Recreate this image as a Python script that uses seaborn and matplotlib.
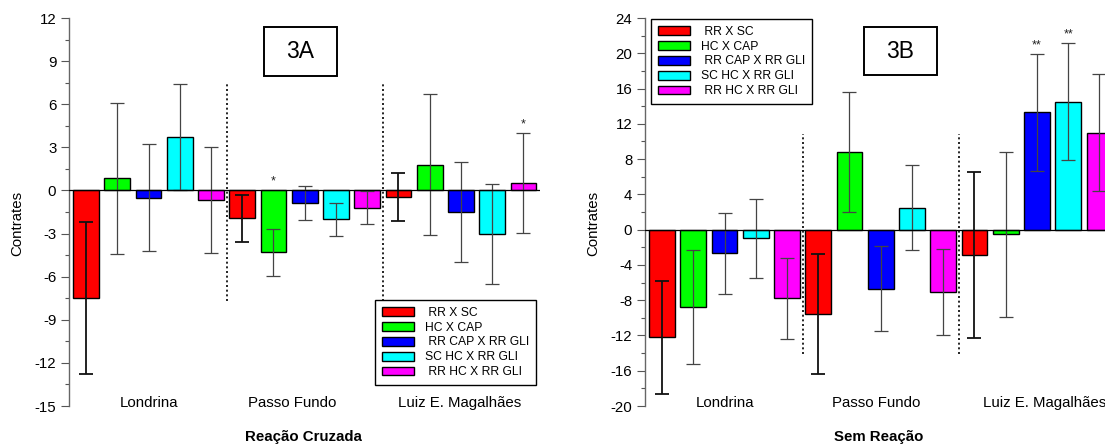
import numpy as np
import pandas as pd
import matplotlib
matplotlib.use("Agg")
import matplotlib.pyplot as plt
from matplotlib.patches import Rectangle, Patch
from matplotlib.ticker import MultipleLocator
import seaborn as sns

# ---------------- data ----------------
locations = ["Londrina", "Passo Fundo", "Luiz E. Magalhães"]
contrasts = ["RR X SC", "HC X CAP", "RR CAP X RR GLI", "SC HC X RR GLI", "RR HC X RR GLI"]
legend_labels = [" RR X SC", "HC X CAP", " RR CAP X RR GLI", "SC HC X RR GLI", " RR HC X RR GLI"]
colors = ["#FF0000", "#00FF00", "#0000FF", "#00FFFF", "#FF00FF"]

# Reação Cruzada (3A): values per location, in contrast order
cruz_londrina = [-7.5, 0.85, -0.5, 3.7, -0.65]
cruz_passo = [-1.95, -4.3, -0.85, -2.0, -1.2]
cruz_luiz = [-0.45, 1.8, -1.5, -3.0, 0.53]
cruz_err_londrina = [5.3, 5.25, 3.7, 3.7, 3.7]
cruz_err_passo = [1.65, 1.65, 1.18, 1.15, 1.15]
cruz_err_luiz = [1.65, 4.9, 3.45, 3.48, 3.46]
cruz_signif = {("Passo Fundo", "HC X CAP"): "*", ("Luiz E. Magalhães", "RR HC X RR GLI"): "*"}

# Sem Reação (3B)
sem_londrina = [-12.2, -8.8, -2.7, -1.0, -7.8]
sem_passo = [-9.55, 8.83, -6.7, 2.5, -7.05]
sem_luiz = [-2.86, -0.55, 13.3, 14.5, 11.0]
sem_err_londrina = [6.4, 6.45, 4.55, 4.5, 4.55]
sem_err_passo = [6.8, 6.8, 4.8, 4.85, 4.85]
sem_err_luiz = [9.4, 9.37, 6.6, 6.65, 6.6]
sem_signif = {("Luiz E. Magalhães", "RR CAP X RR GLI"): "**", ("Luiz E. Magalhães", "SC HC X RR GLI"): "**"}


def build_df(vals_by_loc, errs_by_loc):
    rows = []
    for loc, vals, errs in zip(locations, vals_by_loc, errs_by_loc):
        for c, v, e in zip(contrasts, vals, errs):
            rows.append({"slot": f"{loc}|{c}", "Local": loc, "Contraste": c,
                         "Contrates": v, "err": e})
    return pd.DataFrame(rows)


df_cruz = build_df([cruz_londrina, cruz_passo, cruz_luiz],
                   [cruz_err_londrina, cruz_err_passo, cruz_err_luiz])
df_sem = build_df([sem_londrina, sem_passo, sem_luiz],
                  [sem_err_londrina, sem_err_passo, sem_err_luiz])

# ---------------- style ----------------
sns.set_theme(style="white")
plt.rcParams["font.family"] = ["Liberation Sans", "DejaVu Sans"]
plt.rcParams["axes.unicode_minus"] = False
plt.rcParams["text.color"] = "black"
plt.rcParams["ytick.labelcolor"] = "black"
FS = 10.8

W, H = 1105, 445
fig = plt.figure(figsize=(W / 100, H / 100), dpi=100)

palette = dict(zip(contrasts, colors))


def px_rect(x0, y0, x1, y1):
    return [x0 / W, 1 - y1 / H, (x1 - x0) / W, (y1 - y0) / H]


def draw_panel(ax, df, ylim, major, minor, signif, sep_range, label_x, xlabel,
               xlabel_x, ylabel_x, legend_anchor, title, title_box):
    order = list(df["slot"])
    sns.barplot(data=df, x="slot", y="Contrates", hue="Contraste", order=order,
                hue_order=contrasts, palette=palette, dodge=False, width=0.82,
                saturation=1, edgecolor="black", linewidth=1.0, legend=False,
                ax=ax, zorder=2)
    pos = {s: i for i, s in enumerate(order)}
    xs = np.array([pos[s] for s in df["slot"]])
    # error bars: first contrast thicker/black, others thin dark gray
    for c in contrasts:
        m = (df["Contraste"] == c).values
        if c == contrasts[0]:
            col, lw = "#111111", 1.3
        else:
            col, lw = "#444444", 0.9
        ax.errorbar(xs[m], df["Contrates"].values[m], yerr=df["err"].values[m],
                    fmt="none", ecolor=col, elinewidth=lw, capsize=5, capthick=lw,
                    zorder=3)
    # significance marks
    for (loc, c), mark in signif.items():
        r = df[(df["Local"] == loc) & (df["Contraste"] == c)].iloc[0]
        top = max(r["Contrates"] + r["err"], 0)
        ax.annotate(mark, (pos[r["slot"]], top), xytext=(0, 2),
                    textcoords="offset points", ha="center", va="bottom",
                    fontsize=9, color="#222222")
    ax.axhline(0, color="black", lw=0.9, zorder=4)
    ax.set_xlim(-0.545, 14.53)
    ax.set_ylim(*ylim)
    ax.yaxis.set_major_locator(MultipleLocator(major))
    ax.yaxis.set_minor_locator(MultipleLocator(minor))
    ax.tick_params(axis="y", which="major", direction="out", length=5.5, width=0.8,
                   pad=3.6, labelsize=FS, color="#555555", labelcolor="black",
                   left=True)
    ax.tick_params(axis="y", which="minor", direction="out", length=3, width=0.8,
                   color="#555555", left=True)
    ax.set_xticks([])
    ax.set_xlabel("")
    ax.set_ylabel("")
    for s in ["top", "right", "bottom"]:
        ax.spines[s].set_visible(False)
    ax.spines["left"].set_color("#666666")
    ax.spines["left"].set_linewidth(1.0)
    # group separators
    for xv in [4.5, 9.5]:
        ax.vlines(xv, sep_range[0], sep_range[1], colors="black",
                  linestyles=(0, (1.2, 1.6)), lw=1.2, zorder=1)
    # group labels
    for loc, lx in zip(locations, label_x):
        ax.text(lx, -0.003, loc, transform=ax.get_xaxis_transform(), ha="center",
                va="baseline", fontsize=FS, color="black", clip_on=False)
    fig.text(xlabel_x / W, 1 - 441.5 / H, xlabel, ha="center", va="baseline",
             fontsize=FS, fontweight="bold", color="black")
    fig.text(ylabel_x / W, 1 - 223 / H, "Contrates", rotation=90, ha="center",
             va="center", fontsize=FS, color="black")
    handles = [Patch(facecolor=col, edgecolor="black", linewidth=1.0) for col in colors]
    leg = ax.legend(handles, legend_labels, loc="upper left",
                    bbox_to_anchor=legend_anchor, bbox_transform=fig.transFigure,
                    fontsize=8.7, frameon=True, fancybox=False, framealpha=1,
                    edgecolor="black", handlelength=2.7, handleheight=0.75,
                    labelspacing=0.24, borderpad=0.55, handletextpad=0.9,
                    borderaxespad=0)
    leg.get_frame().set_linewidth(1.0)
    for t in leg.get_texts():
        t.set_color("black")
    leg.set_zorder(6)
    # title box
    x0, y0, x1, y1 = title_box
    fig.patches.append(Rectangle((x0 / W, 1 - y1 / H), (x1 - x0) / W, (y1 - y0) / H,
                                 transform=fig.transFigure, facecolor="white",
                                 edgecolor="black", lw=1.4, zorder=5))
    fig.text((x0 + x1) / 2 / W, 1 - (y0 + y1) / 2 / H, title, ha="center",
             va="center", fontsize=16.5, zorder=6, color="black")


ax1 = fig.add_axes(px_rect(69, 18, 540, 406))
draw_panel(ax1, df_cruz, (-15, 12), 3, 1.5, cruz_signif, (-7.7, 7.5),
           [2.0, 6.6, 11.97], "Reação Cruzada", 303, 17,
           (375 / W, 1 - 300 / H), "3A", (264, 27, 337, 76))

ax2 = fig.add_axes(px_rect(645, 18, 645 + 471, 406))
draw_panel(ax2, df_sem, (-20, 24), 4, 2, sem_signif, (-14.05, 10.8),
           [2.0, 6.85, 12.25], "Sem Reação", 879, 593,
           (651 / W, 1 - 19 / H), "3B", (864, 27, 937, 75))

fig.savefig("out.png", dpi=100)
